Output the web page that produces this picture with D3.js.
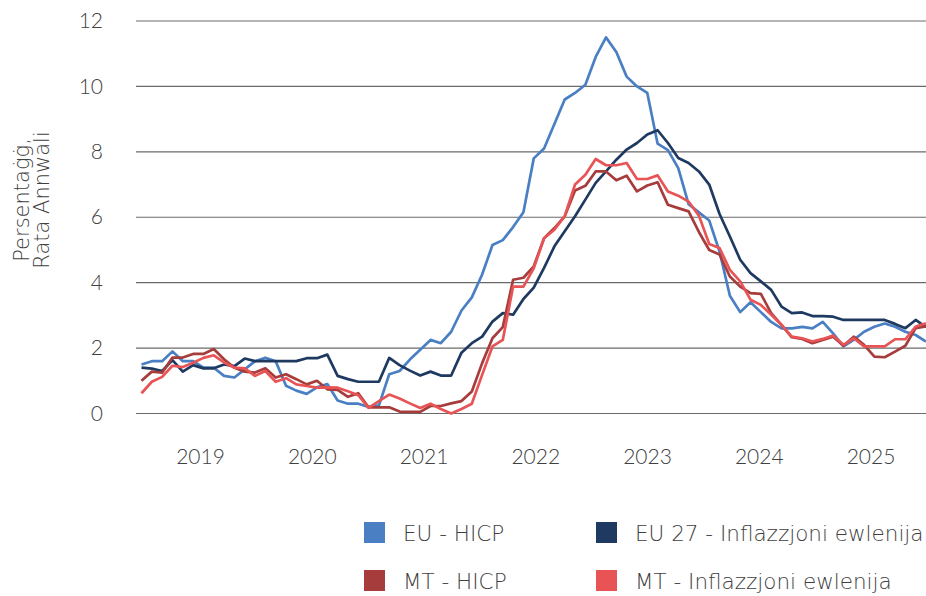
<!DOCTYPE html>
<html>
<head>
<meta charset="utf-8">
<script src="https://cdn.jsdelivr.net/npm/d3@7"></script>
<style>
  html, body { margin: 0; padding: 0; background: #ffffff; }
  svg { display: block; }
  text { font-family: Lato, "Open Sans", sans-serif; font-weight: 300; fill: #404040; }
  .wide { font-family: "DejaVu Sans", sans-serif; font-weight: 200; }
</style>
</head>
<body>
<svg id="chart" width="926" height="596"></svg>
<script>
// ---- Data (monthly, Jan 2019 – May 2025) ----
const years = ["2019", "2020", "2021", "2022", "2023", "2024", "2025"];
const months = [];
for (let y = 2019; y <= 2025; y++) {
  for (let m = 1; m <= 12; m++) {
    if (y === 2025 && m > 5) break;
    months.push(y + "-" + String(m).padStart(2, "0"));
  }
}
const yTicks = [0, 2, 4, 6, 8, 10, 12];

const euHicp = [
  1.5, 1.6, 1.6, 1.9, 1.6, 1.6, 1.4, 1.4, 1.15, 1.1, 1.35, 1.6,
  1.7, 1.6, 0.85, 0.7, 0.6, 0.8, 0.9, 0.4, 0.3, 0.3, 0.2, 0.25,
  1.2, 1.3, 1.65, 1.95, 2.25, 2.15, 2.5, 3.15, 3.55, 4.25, 5.15, 5.3,
  5.7, 6.15, 7.8, 8.1, 8.85, 9.6, 9.8, 10.05, 10.9, 11.5, 11.05, 10.3,
  10.0, 9.8, 8.25, 8.05, 7.5, 6.4, 6.15, 5.9, 4.95, 3.6, 3.1, 3.4,
  3.1, 2.8, 2.6, 2.6, 2.65, 2.6, 2.8, 2.45, 2.05, 2.25, 2.5, 2.65,
  2.75, 2.65, 2.5, 2.4, 2.2
];
const euCore = [
  1.4, 1.37, 1.3, 1.63, 1.28, 1.48, 1.38, 1.38, 1.5, 1.45, 1.68, 1.6,
  1.6, 1.6, 1.6, 1.6, 1.69, 1.69, 1.8, 1.15, 1.05, 0.97, 0.97, 0.97,
  1.7, 1.48, 1.31, 1.16, 1.28, 1.16, 1.16, 1.86, 2.15, 2.35, 2.81, 3.07,
  3.02, 3.5, 3.85, 4.45, 5.11, 5.57, 6.03, 6.54, 7.05, 7.4, 7.76, 8.07,
  8.27, 8.53, 8.66, 8.27, 7.81, 7.66, 7.4, 7.0, 6.1, 5.41, 4.7, 4.29,
  4.04, 3.78, 3.27, 3.07, 3.09, 2.98, 2.98, 2.96, 2.86, 2.86, 2.86, 2.86,
  2.86, 2.74, 2.61, 2.86, 2.64
];
const mtHicp = [
  1.0, 1.28, 1.25, 1.71, 1.71, 1.82, 1.82, 1.97, 1.66, 1.4, 1.28, 1.25,
  1.38, 1.1, 1.2, 1.05, 0.89, 1.0, 0.74, 0.72, 0.51, 0.62, 0.19, 0.19,
  0.19, 0.06, 0.05, 0.05, 0.23, 0.23, 0.31, 0.38, 0.67, 1.54, 2.3, 2.64,
  4.09, 4.15, 4.5, 5.36, 5.67, 6.03, 6.82, 6.96, 7.4, 7.4, 7.13, 7.27,
  6.79, 6.97, 7.07, 6.38, 6.28, 6.18, 5.55, 5.0, 4.86, 4.19, 3.88, 3.68,
  3.66, 3.07, 2.71, 2.33, 2.28, 2.15, 2.25, 2.35, 2.07, 2.35, 2.1, 1.74,
  1.72, 1.89, 2.07, 2.61, 2.66
];
const mtCore = [
  0.62, 0.97, 1.12, 1.46, 1.42, 1.55, 1.7, 1.78, 1.56, 1.4, 1.38, 1.15,
  1.3, 0.97, 1.08, 0.89, 0.84, 0.79, 0.8, 0.79, 0.68, 0.56, 0.17, 0.38,
  0.58, 0.46, 0.31, 0.17, 0.3, 0.14, 0.0, 0.14, 0.3, 1.18, 2.05, 2.25,
  3.88, 3.88, 4.44, 5.36, 5.62, 6.03, 7.0, 7.3, 7.78, 7.59, 7.59, 7.66,
  7.17, 7.17, 7.28, 6.79, 6.66, 6.48, 6.05, 5.18, 5.06, 4.39, 4.04, 3.48,
  3.32, 3.02, 2.71, 2.35, 2.3, 2.2, 2.28, 2.38, 2.1, 2.3, 2.05, 2.05,
  2.05, 2.27, 2.27, 2.66, 2.76
];

const seriesNames = ["EU - HICP", "EU 27 - Inflazzjoni ewlenija", "MT - HICP", "MT - Inflazzjoni ewlenija"];
const seriesColors = ["#4a7fc3", "#1f3a61", "#a63c3c", "#e85456"];
const seriesValues = [euHicp, euCore, mtHicp, mtCore];
const yTitle = ["Persentaġġ,", "Rata Annwali"];

// ---- Layout ----
const svg = d3.select("#chart");
const x = d3.scalePoint().domain(months).range([141.5, 926]);
const xYear = d3.scalePoint().domain(years).range([200, 870.5]);
const y = d3.scaleLinear().domain([0, 12]).range([413.5, 21]);

// gridlines
svg.append("g")
  .selectAll("line")
  .data(yTicks)
  .join("line")
  .attr("x1", 136).attr("x2", 926)
  .attr("y1", d => y(d)).attr("y2", d => y(d))
  .attr("stroke", "#6a6a6a")
  .attr("stroke-width", 1.2);

// y axis labels
const yAxis = d3.axisLeft(y).tickValues(yTicks).tickSize(0).tickPadding(0);
const gy = svg.append("g").attr("transform", "translate(103,0)").call(yAxis);
gy.select(".domain").remove();
gy.selectAll("text")
  .style("font-family", "Lato, 'Open Sans', sans-serif")
  .style("font-weight", 300)
  .style("font-size", "21px")
  .attr("fill", "#404040");

// x year labels
const xAxis = d3.axisBottom(xYear).tickSize(0).tickPadding(0);
const gx = svg.append("g").attr("transform", "translate(0,449)").call(xAxis);
gx.select(".domain").remove();
gx.selectAll("text")
  .attr("dy", "0.72em")
  .style("font-family", "Lato, 'Open Sans', sans-serif")
  .style("font-weight", 300)
  .style("font-size", "21px")
  .attr("fill", "#404040");

// y axis title
const title = svg.append("text")
  .attr("class", "wide")
  .attr("transform", "translate(31,200) rotate(-90)")
  .attr("text-anchor", "middle")
  .style("font-size", "21px");
title.selectAll("tspan")
  .data(yTitle)
  .join("tspan")
  .attr("x", 0)
  .attr("dy", (d, i) => i === 0 ? "-0.1em" : "0.95em")
  .text(d => d);

// lines
const line = d3.line()
  .x((d, i) => x(months[i]))
  .y(d => y(d));

svg.append("g")
  .selectAll("path")
  .data(seriesValues)
  .join("path")
  .attr("d", d => line(d))
  .attr("fill", "none")
  .attr("stroke", (d, i) => seriesColors[i])
  .attr("stroke-width", 2.7)
  .attr("stroke-linejoin", "round");

// legend
const legendPos = [[364, 522], [596, 522], [364, 570], [596, 570]];
const lg = svg.append("g")
  .selectAll("g")
  .data(seriesNames)
  .join("g")
  .attr("transform", (d, i) => `translate(${legendPos[i][0]},${legendPos[i][1]})`);
lg.append("rect")
  .attr("width", 21).attr("height", 21)
  .attr("fill", (d, i) => seriesColors[i]);
lg.append("text")
  .attr("class", "wide")
  .attr("x", 39).attr("y", 11)
  .attr("dy", "0.36em")
  .style("font-size", "21.5px")
  .text(d => d);
</script>
</body>
</html>
